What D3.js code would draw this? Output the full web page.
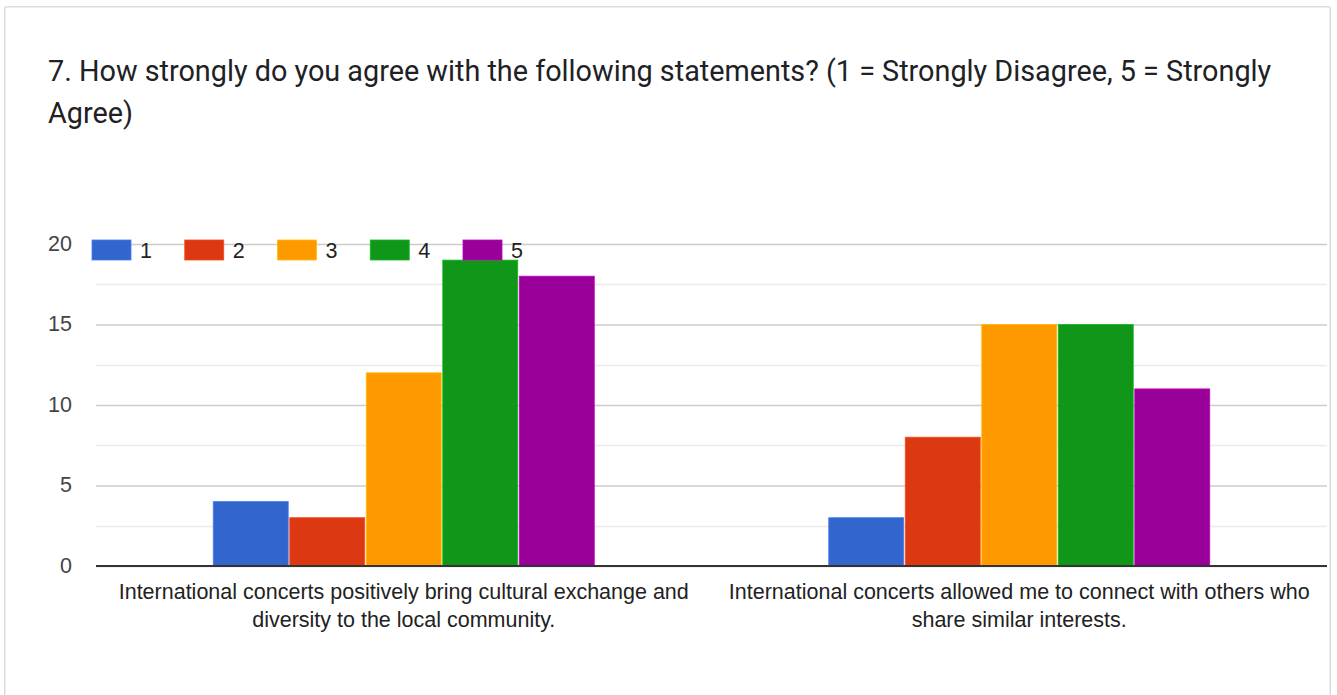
<!DOCTYPE html>
<html>
<head>
<meta charset="utf-8">
<script src="https://cdn.jsdelivr.net/npm/d3@7"></script>
<style>
  body { margin: 0; background: #fff; }
  .card { fill: #fff; stroke: #dadce0; stroke-width: 1.5; }
  .title { font-family: Roboto, "Noto Sans", sans-serif; font-size: 28.8px; fill: #202124; }
  .tick text { font-family: "Liberation Sans", Arial, sans-serif; font-size: 21.5px; fill: #444; }
  .catLabel { font-family: "Liberation Sans", Arial, sans-serif; font-size: 21.5px; fill: #222; }
  .legendText { font-family: "Liberation Sans", Arial, sans-serif; font-size: 21.5px; fill: #222; }
</style>
</head>
<body>
<script>
(function(){

    //chart data
    var categories = [
        ["International concerts positively bring cultural exchange and", "diversity to the local community."],
        ["International concerts allowed me to connect with others who", "share similar interests."]
    ];
    var seriesNames = ["1", "2", "3", "4", "5"];
    var seriesColors = ["#3366cc", "#dc3912", "#ff9900", "#109618", "#990099"];
    var values1 = [4, 3, 12, 19, 18];
    var values2 = [3, 8, 15, 15, 11];
    var yTicks = [0, 5, 10, 15, 20];
    var titleLines = [
        "7. How strongly do you agree with the following statements? (1 = Strongly Disagree, 5 = Strongly",
        "Agree)"
    ];

    var width = 1337,
        height = 695;

    var svg = d3.select("body")
        .append("svg")
        .attr("width", width)
        .attr("height", height);

    //card background
    svg.append("rect")
        .attr("class", "card")
        .attr("x", 4.75)
        .attr("y", 6.75)
        .attr("width", 1325.5)
        .attr("height", 720)
        .attr("rx", 2);

    //title
    svg.append("text")
        .attr("class", "title")
        .selectAll("tspan")
        .data(titleLines)
        .enter()
        .append("tspan")
        .attr("x", 48)
        .attr("y", function(d, i){ return 81 + i * 42; })
        .text(function(d){ return d; });

    //plot frame
    var left = 96, right = 1327, top = 244, bottom = 566;

    var yScale = d3.scaleLinear()
        .domain([0, 20])
        .range([bottom, top]);

    var x0 = d3.scaleBand()
        .domain(d3.range(categories.length))
        .range([left, right]);

    var groupWidth = 381;
    var x1 = d3.scaleBand()
        .domain(seriesNames)
        .range([0, groupWidth])
        .paddingInner(0.02);

    //minor gridlines
    svg.append("g")
        .selectAll("line")
        .data([2.5, 7.5, 12.5, 17.5])
        .enter()
        .append("line")
        .attr("x1", left)
        .attr("x2", right)
        .attr("y1", function(d){ return Math.round(yScale(d)) + 0.5; })
        .attr("y2", function(d){ return Math.round(yScale(d)) + 0.5; })
        .attr("stroke", "#ebebeb")
        .attr("stroke-width", 1.3);

    //major gridlines and labels via axis
    var yAxis = d3.axisLeft(yScale)
        .tickValues(yTicks)
        .tickSize(-(right - left))
        .tickPadding(24)
        .tickFormat(d3.format("d"));

    var axis = svg.append("g")
        .attr("transform", "translate(" + left + ",0)")
        .call(yAxis);
    axis.select(".domain").remove();
    axis.selectAll(".tick line")
        .attr("stroke", "#cccccc")
        .attr("stroke-width", 1.5);
    axis.selectAll(".tick text")
        .attr("dy", "0.3em");

    //bars
    var data = [values1, values2];
    var groups = svg.selectAll(".group")
        .data(data)
        .enter()
        .append("g")
        .attr("class", "group")
        .attr("transform", function(d, i){
            return "translate(" + (x0(i) + x0.bandwidth() / 2 - groupWidth / 2) + ",0)";
        });

    groups.selectAll("rect")
        .data(function(d){ return d.map(function(v, j){ return {name: seriesNames[j], value: v, color: seriesColors[j]}; }); })
        .enter()
        .append("rect")
        .attr("x", function(d){ return x1(d.name); })
        .attr("width", x1.bandwidth())
        .attr("y", function(d){ return yScale(d.value); })
        .attr("height", function(d){ return bottom - yScale(d.value); })
        .style("fill", function(d){ return d.color; })
        .style("stroke", function(d){ return d3.color(d.color).brighter(0.6); })
        .style("stroke-width", 0.8);

    //baseline
    svg.append("line")
        .attr("x1", left)
        .attr("x2", right)
        .attr("y1", bottom)
        .attr("y2", bottom)
        .attr("stroke", "#333")
        .attr("stroke-width", 2);

    //category labels
    svg.selectAll(".catLabel")
        .data(categories)
        .enter()
        .append("text")
        .attr("class", "catLabel")
        .attr("text-anchor", "middle")
        .each(function(d, i){
            d3.select(this).selectAll("tspan")
                .data(d)
                .enter()
                .append("tspan")
                .attr("x", x0(i) + x0.bandwidth() / 2)
                .attr("y", function(t, k){ return 598.5 + k * 28; })
                .text(function(t){ return t; });
        });

    //legend
    var legend = svg.append("g")
        .attr("transform", "translate(92,240)");

    var items = legend.selectAll(".legendItem")
        .data(seriesNames)
        .enter()
        .append("g")
        .attr("class", "legendItem")
        .attr("transform", function(d, i){ return "translate(" + (i * 92.75) + ",0)"; });

    items.append("rect")
        .attr("width", 39)
        .attr("height", 20)
        .style("fill", function(d, i){ return seriesColors[i]; })
        .style("stroke", function(d, i){ return d3.color(seriesColors[i]).brighter(0.6); })
        .style("stroke-width", 0.8);

    items.append("text")
        .attr("class", "legendText")
        .attr("x", 48)
        .attr("y", 18)
        .text(function(d){ return d; });

})();
</script>
</body>
</html>
